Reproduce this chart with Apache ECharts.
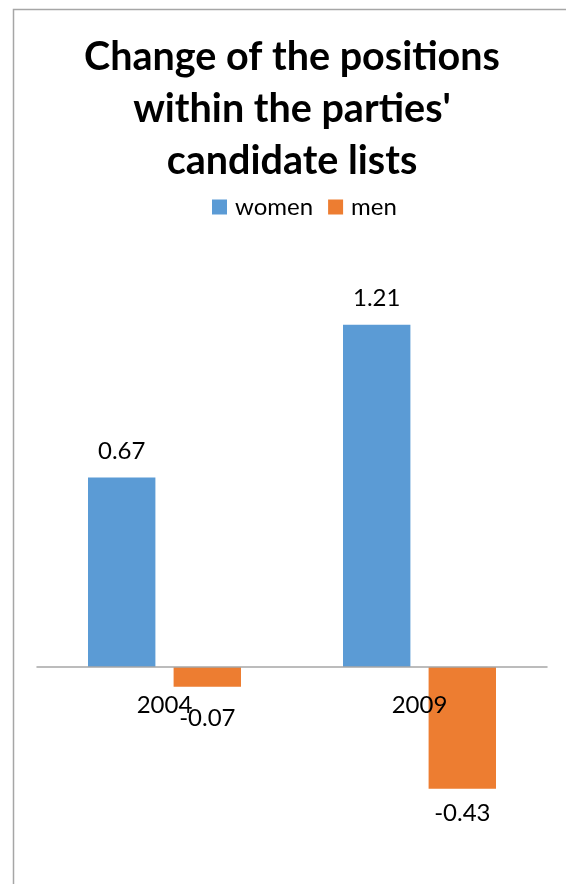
<!DOCTYPE html>
<html>
<head>
<meta charset="utf-8">
<script src="https://cdn.jsdelivr.net/npm/echarts@6/dist/echarts.min.js"></script>
<style>
  html, body { margin: 0; padding: 0; background: #fff; }
  #chart { width: 566px; height: 884px; }
</style>
</head>
<body>
<div id="chart"></div>
<script>
// Election years and average position change per gender
const years = ['2004', '2009'];
const women = [0.67, 1.21];
const men = [-0.07, -0.43];
// Gap between each bar end and its value label
const womenLabelGap = [14, 14];
const menLabelGap = [19, 13];

const FONT = 'Lato, "Open Sans", sans-serif';
const LABEL_SIZE = 24;

// Value-axis range and plot box
const Y_MIN = -0.7;
const Y_MAX = 1.4;
const GRID = { left: 37, right: 19, top: 271, bottom: 19 };
const CHART_H = 884;
const plotH = CHART_H - GRID.top - GRID.bottom;
const pxPerUnit = plotH / (Y_MAX - Y_MIN);
// Year labels sit just under the zero line rather than under the plot box
const yearLabelMargin = -(0 - Y_MIN) * pxPerUnit + 26;

function withLabels(values, gaps) {
  return values.map((v, i) => ({
    value: v,
    label: {
      position: v < 0 ? 'bottom' : 'top',
      distance: gaps[i]
    }
  }));
}

const chart = echarts.init(document.getElementById('chart'));
chart.setOption({
  animation: false,
  backgroundColor: '#fff',
  title: {
    text: 'Change of the positions\nwithin the parties\'\ncandidate lists',
    left: 287,
    top: 26,
    textAlign: 'center',
    textStyle: {
      fontFamily: FONT,
      fontWeight: 'bold',
      fontSize: 39.5,
      lineHeight: 52,
      color: '#000'
    }
  },
  legend: {
    top: 190,
    left: 207,
    itemWidth: 15,
    itemHeight: 15,
    itemGap: 15,
    icon: 'rect',
    textStyle: { fontFamily: FONT, fontSize: LABEL_SIZE, color: '#000', padding: [0, 0, 0, 3] },
    data: ['women', 'men']
  },
  graphic: [{
    type: 'rect',
    shape: { x: 13.5, y: 9.5, width: 700, height: 1000 },
    style: { fill: 'none', stroke: '#a6a6a6', lineWidth: 1.5 },
    silent: true
  }],
  grid: Object.assign({ outerBoundsMode: 'none', containLabel: false }, GRID),
  xAxis: {
    type: 'category',
    data: years,
    z: 5,
    axisLine: { onZero: true, lineStyle: { color: '#a6a6a6', width: 1.5 } },
    axisTick: { show: false },
    axisLabel: { fontFamily: FONT, fontSize: LABEL_SIZE, color: '#000', margin: yearLabelMargin }
  },
  yAxis: {
    type: 'value',
    min: Y_MIN,
    max: Y_MAX,
    show: false,
    splitLine: { show: false }
  },
  series: [
    {
      name: 'women',
      type: 'bar',
      data: withLabels(women, womenLabelGap),
      itemStyle: { color: '#5B9BD5' },
      barGap: '27%',
      barCategoryGap: '40%',
      label: { show: true, fontFamily: FONT, fontSize: LABEL_SIZE, color: '#000' }
    },
    {
      name: 'men',
      type: 'bar',
      data: withLabels(men, menLabelGap),
      itemStyle: { color: '#ED7D31' },
      barGap: '27%',
      barCategoryGap: '40%',
      label: { show: true, fontFamily: FONT, fontSize: LABEL_SIZE, color: '#000' }
    }
  ]
});
</script>
</body>
</html>
